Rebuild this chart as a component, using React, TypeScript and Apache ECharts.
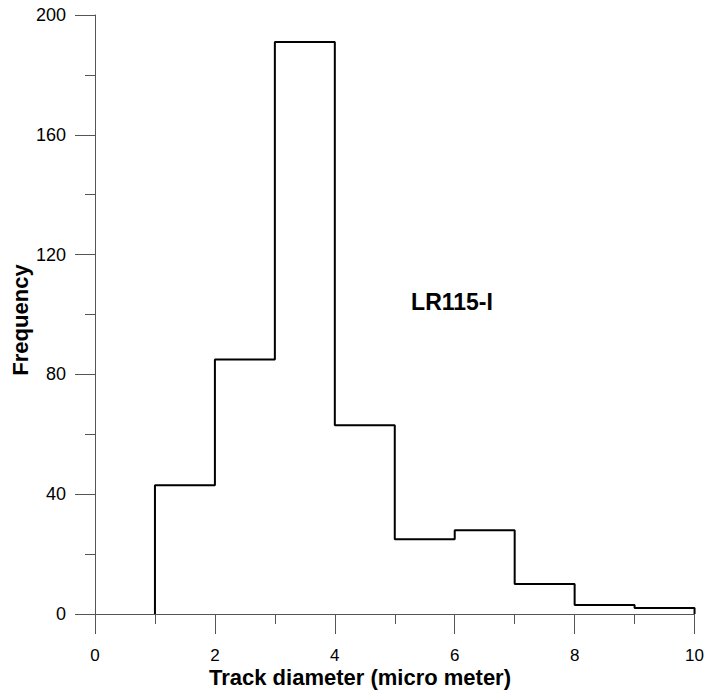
import React, { useEffect, useRef } from "react";
import * as echarts from "echarts";

const binEdges = [1, 2, 3, 4, 5, 6, 7, 8, 9, 10];
const frequencies = [43, 85, 191, 63, 25, 28, 10, 3, 2];
const xTicks = [0, 2, 4, 6, 8, 10];
const yTicks = [0, 40, 80, 120, 160, 200];
const xTitle = "Track diameter (micro meter)";
const yTitle = "Frequency";
const annotation = "LR115-I";

const FONT = '"Liberation Sans", Arial, sans-serif';
const AXIS_COLOR = "#555";

export default function App() {
  const ref = useRef<HTMLDivElement>(null);

  useEffect(() => {
    document.body.style.margin = "0";
    if (!ref.current) return;
    const chart = echarts.init(ref.current, null, { renderer: "svg" });

    const points: number[][] = [[binEdges[0], 0]];
    for (let i = 0; i < frequencies.length; i++) {
      points.push([binEdges[i + 1], frequencies[i]]);
    }
    points.push([binEdges[binEdges.length - 1], 0]);

    const axisCommon = {
      axisLine: { show: true, onZero: false, lineStyle: { color: AXIS_COLOR, width: 1 } },
      axisTick: { show: true, inside: false, length: 20, lineStyle: { color: AXIS_COLOR, width: 1 } },
      minorTick: { show: true, splitNumber: 2, length: 10, lineStyle: { color: AXIS_COLOR, width: 1 } },
      splitLine: { show: false },
      minorSplitLine: { show: false },
    };

    chart.setOption({
      animation: false,
      backgroundColor: "#fff",
      grid: { left: 95, right: 12, top: 15, bottom: 82, containLabel: false },
      xAxis: {
        type: "value",
        min: xTicks[0],
        max: xTicks[xTicks.length - 1],
        interval: xTicks[1] - xTicks[0],
        ...axisCommon,
        axisLabel: { color: "#000", fontSize: 17, fontFamily: FONT, margin: 33, lineHeight: 17 },
      },
      yAxis: {
        type: "value",
        min: yTicks[0],
        max: yTicks[yTicks.length - 1],
        interval: yTicks[1] - yTicks[0],
        ...axisCommon,
        axisLabel: { color: "#000", fontSize: 18, fontFamily: FONT, margin: 29 },
      },
      series: [
        {
          type: "line",
          step: "start",
          data: points,
          showSymbol: false,
          symbol: "none",
          lineStyle: { color: "#000", width: 2 },
          z: 5,
        },
      ],
      graphic: [
        {
          type: "text",
          x: 360,
          y: 677,
          style: {
            text: xTitle,
            fill: "#000",
            fontSize: 22,
            fontWeight: "bold",
            fontFamily: FONT,
            align: "center",
            verticalAlign: "middle",
          },
        },
        {
          type: "text",
          x: 20,
          y: 320,
          rotation: Math.PI / 2,
          style: {
            text: yTitle,
            fill: "#000",
            fontSize: 22,
            fontWeight: "bold",
            fontFamily: FONT,
            align: "center",
            verticalAlign: "middle",
          },
        },
        {
          type: "text",
          x: 452,
          y: 302,
          style: {
            text: annotation,
            fill: "#000",
            fontSize: 23,
            fontWeight: "bold",
            fontFamily: FONT,
            align: "center",
            verticalAlign: "middle",
          },
        },
      ],
    });

    return () => chart.dispose();
  }, []);

  return <div ref={ref} style={{ width: 707, height: 696 }} />;
}
